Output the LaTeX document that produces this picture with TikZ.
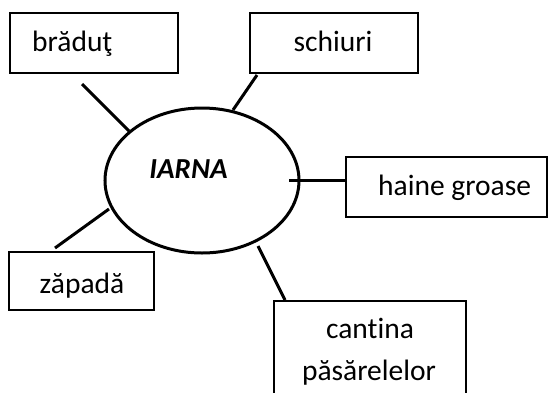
\documentclass[tikz,border=0pt]{standalone}
\usepackage{fontspec}
\setmainfont{Carlito}[Ligatures=NoCommon]
\usetikzlibrary{shapes.geometric}
\begin{document}
\begin{tikzpicture}[x=1pt,y=-1pt,
  box/.style={draw,line width=1.6pt,rectangle,inner sep=0pt},
  lbl/.style={inner sep=0pt,font=\fontsize{29.5}{35}\selectfont},
  conn/.style={line width=3pt}]
\useasboundingbox (0,0) rectangle (558,392);
\clip (0,0) rectangle (558,392);
% boxes
\node[box,minimum width=168pt,minimum height=60pt] (b1) at (94,43) {};
\node[box,minimum width=168pt,minimum height=60pt] (b2) at (334,43) {};
\node[box,minimum width=201pt,minimum height=60pt] (b3) at (446.5,187) {};
\node[box,minimum width=145pt,minimum height=58pt] (b4) at (81.5,281) {};
\node[box,minimum width=192pt,minimum height=130pt] (b5) at (370,366) {};
% ellipse
\node[draw,ellipse,line width=3pt,minimum width=194pt,minimum height=145pt,inner sep=0pt] (e) at (202,180.5) {};
% texts
\node[lbl,anchor=base,font=\fontsize{29}{35}\selectfont] (tI) at (188.5,178) {\bfseries\itshape IARNA};
\node[lbl,anchor=base west] (t1) at (32,51) {brăduţ};
\node[lbl,anchor=base] (t2) at (333,51) {schiuri};
\node[lbl,anchor=base west] (t3) at (378,195) {haine groase};
\node[lbl,anchor=base] (t4) at (82,293) {zăpadă};
\node[lbl,anchor=base] (t5a) at (370,338) {cantina};
\node[lbl,anchor=base] (t5b) at (369,380) {păsărelelor};
% connector ends
\coordinate (c1a) at (82,84);  \coordinate (c1b) at (129,131);
\coordinate (c2a) at (257,75); \coordinate (c2b) at (233,110);
\coordinate (c3a) at (289,180); \coordinate (c3b) at (346,180);
\coordinate (c4a) at (55,248); \coordinate (c4b) at (109,209);
\coordinate (c5a) at (258,246); \coordinate (c5b) at (285,300);
\draw[conn] (c1a) -- (c1b);
\draw[conn] (c2a) -- (c2b);
\draw[conn] (c3a) -- (c3b);
\draw[conn] (c4a) -- (c4b);
\draw[conn] (c5a) -- (c5b);
\end{tikzpicture}
\end{document}
